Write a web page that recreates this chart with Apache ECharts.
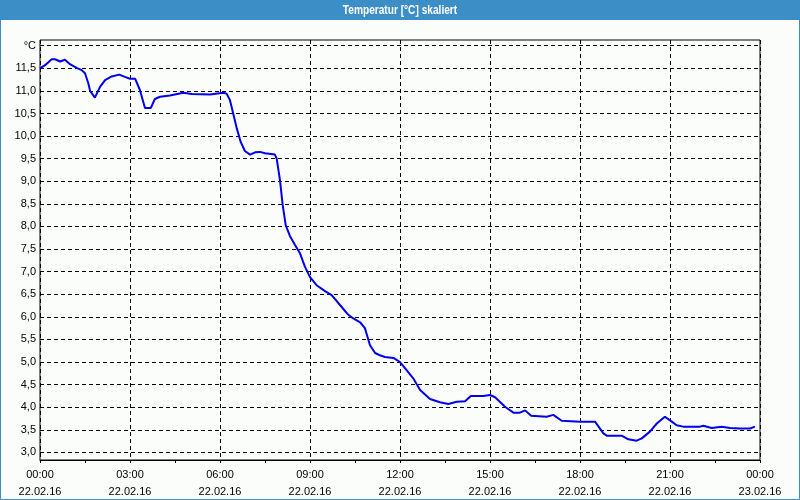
<!DOCTYPE html>
<html>
<head>
<meta charset="utf-8">
<script src="https://cdn.jsdelivr.net/npm/echarts@6/dist/echarts.min.js"></script>
<style>html,body{margin:0;padding:0;background:#fbfdfb;}#c{width:800px;height:500px;}</style>
</head>
<body>
<div id="c"></div>
<script>
// Time in hours since 22.02.16 00:00
const hours = [0.00,0.17,0.39,0.50,0.67,0.83,1.00,1.22,1.39,1.50,1.61,1.67,1.83,2.00,2.17,2.39,2.64,2.83,3.00,3.17,3.33,3.50,3.69,3.83,4.00,4.33,4.78,5.06,5.67,6.11,6.22,6.33,6.44,6.56,6.69,6.83,7.00,7.17,7.33,7.50,7.83,7.89,8.00,8.09,8.19,8.33,8.50,8.67,8.83,9.00,9.22,9.50,9.72,9.89,10.09,10.27,10.43,10.67,10.83,11.00,11.17,11.33,11.50,11.78,12.00,12.22,12.44,12.67,13.00,13.33,13.61,13.89,14.17,14.36,14.78,15.00,15.17,15.50,15.78,16.00,16.17,16.37,16.89,17.11,17.39,18.00,18.50,18.78,18.89,19.39,19.61,19.89,20.06,20.33,20.56,20.83,21.06,21.22,21.44,22.00,22.11,22.39,22.72,23.00,23.33,23.67,23.83];
const temperatures = [11.50,11.57,11.70,11.70,11.65,11.69,11.59,11.51,11.46,11.39,11.17,11.00,10.85,11.09,11.24,11.32,11.36,11.31,11.27,11.27,11.02,10.62,10.62,10.82,10.87,10.90,10.96,10.93,10.92,10.96,10.94,10.80,10.50,10.17,9.87,9.67,9.59,9.64,9.65,9.62,9.59,9.50,9.02,8.47,8.03,7.79,7.59,7.40,7.11,6.88,6.70,6.57,6.48,6.35,6.19,6.05,5.97,5.88,5.75,5.37,5.20,5.15,5.11,5.09,5.00,4.82,4.64,4.38,4.18,4.11,4.07,4.12,4.13,4.25,4.25,4.27,4.22,4.01,3.88,3.88,3.93,3.81,3.79,3.83,3.70,3.68,3.68,3.42,3.37,3.37,3.29,3.26,3.31,3.46,3.64,3.79,3.68,3.60,3.57,3.57,3.59,3.54,3.57,3.54,3.53,3.53,3.57];
const xTickHours = [0,3,6,9,12,15,18,21,24];
const xTickTimes = ['00:00','03:00','06:00','09:00','12:00','15:00','18:00','21:00','00:00'];
const xTickDates = ['22.02.16','22.02.16','22.02.16','22.02.16','22.02.16','22.02.16','22.02.16','22.02.16','23.02.16'];
const yUnitLabel = '°C';
const titleText = 'Temperatur [°C] skaliert';

const seriesData = hours.map((h, i) => [h, temperatures[i]]);
const font = 'Liberation Sans';
const chart = echarts.init(document.getElementById('c'), null, {renderer: 'canvas'});
chart.setOption({
  animation: false,
  backgroundColor: '#fbfdfb',
  graphic: [
    {type: 'rect', z: -1, shape: {x: 0.5, y: 0.5, width: 799, height: 499}, style: {fill: 'none', stroke: '#3c8fc6', lineWidth: 1}},
    {type: 'rect', z: -1, shape: {x: 0, y: 0, width: 800, height: 20}, style: {fill: '#3c8fc6'}},
    {type: 'text', x: 400, y: 10, scaleX: 0.78, scaleY: 1, originX: 0, originY: 0,
     style: {text: titleText, fill: '#ffffff', font: 'bold 13px "Liberation Sans"', textAlign: 'center', textVerticalAlign: 'middle'}}
  ],
  grid: [
    {left: 40, right: 40, top: 40, bottom: 39, show: true, borderColor: '#000', borderWidth: 1, backgroundColor: 'transparent'},
    {left: 40, right: 40, top: 45.7, bottom: 47.6}
  ],
  xAxis: [
    {
      gridIndex: 0, type: 'value', min: 0, max: 24, interval: 3,
      axisLine: {show: true, lineStyle: {color: '#000', width: 1}},
      axisTick: {show: true, length: 3, lineStyle: {color: '#000'}},
      minorTick: {show: true, splitNumber: 2, length: 3, lineStyle: {color: '#000'}},
      splitLine: {show: true, lineStyle: {color: '#000', type: [4, 3], width: 1}},
      axisLabel: {
        margin: 6, fontFamily: font, fontSize: 11, color: '#000', lineHeight: 17,
        formatter: v => { const i = xTickHours.indexOf(v); return i < 0 ? '' : xTickTimes[i] + '\n' + xTickDates[i]; }
      }
    },
    {gridIndex: 1, type: 'value', min: 0, max: 24, show: false}
  ],
  yAxis: [
    {gridIndex: 0, type: 'value', min: 0, max: 1, show: false},
    {
      gridIndex: 1, type: 'value', min: 3, max: 12, interval: 0.5,
      axisLine: {show: false}, axisTick: {show: false},
      splitLine: {show: true, lineStyle: {color: '#000', type: [4, 3], width: 1}},
      axisLabel: {
        margin: 4, fontFamily: font, fontSize: 11, color: '#000',
        formatter: v => v === 12 ? yUnitLabel : v.toFixed(1).replace('.', ',')
      }
    }
  ],
  series: [{
    type: 'line', xAxisIndex: 1, yAxisIndex: 1, data: seriesData,
    showSymbol: false, symbol: 'none', smooth: false,
    lineStyle: {color: '#0000ee', width: 2}
  }]
});
</script>
</body>
</html>
